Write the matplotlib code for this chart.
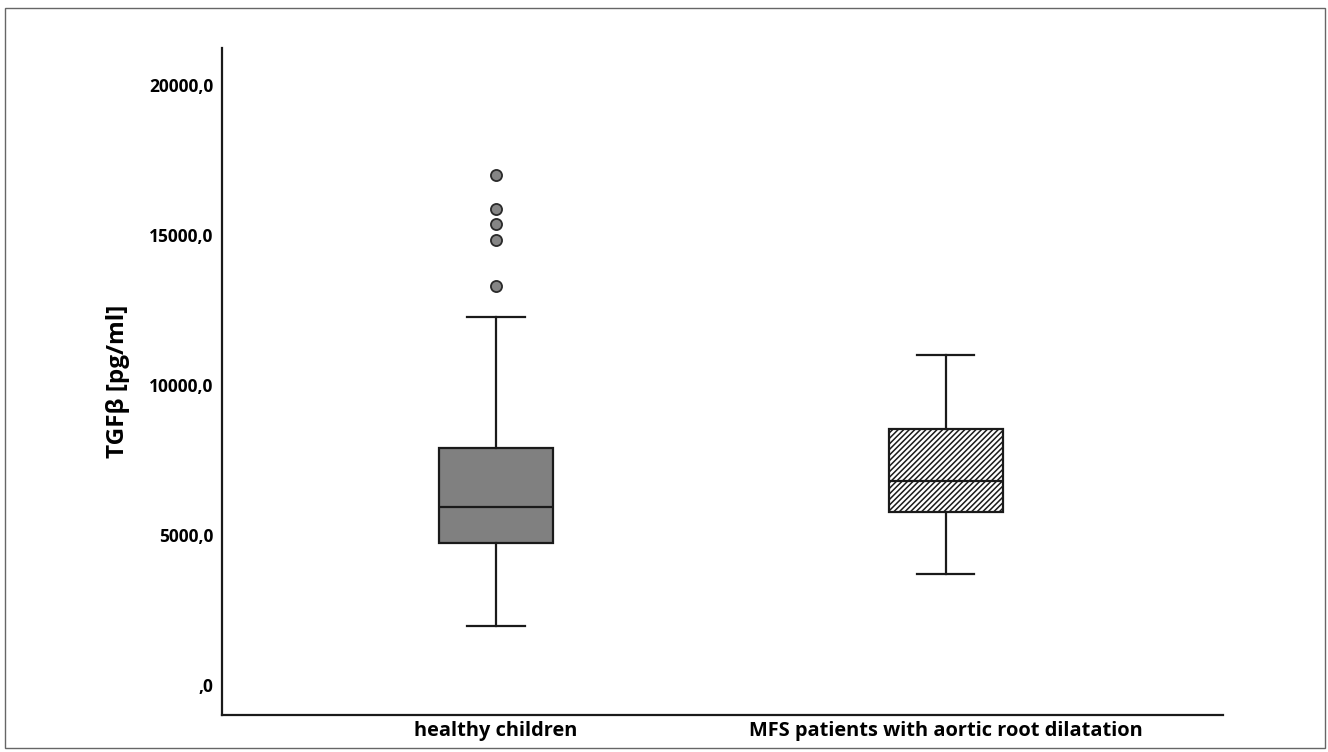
import matplotlib
matplotlib.use("Agg")
import matplotlib.pyplot as plt
from matplotlib.patches import Rectangle

categories = ["healthy children", "MFS patients with aortic root dilatation"]
whislo = [1950, 3700]
q1 = [4720, 5780]
med = [5940, 6790]
q3 = [7890, 8520]
whishi = [12250, 10990]
outliers_healthy = [13290, 14830, 15370, 15870, 17000]
outliers_mfs = []
yticks = [0, 5000, 10000, 15000, 20000]
ytick_labels = [",0", "5000,0", "10000,0", "15000,0", "20000,0"]

plt.rcParams['font.family'] = ['Open Sans', 'DejaVu Sans']
plt.rcParams['hatch.linewidth'] = 1.1

fig = plt.figure(figsize=(13.28, 7.52), dpi=100)
ax = fig.add_axes([221.5/1328, 1-715/752, (1223-221.5)/1328, (715-48)/752])

stats = []
fl = [outliers_healthy, outliers_mfs]
for i in range(2):
    stats.append(dict(label=categories[i], whislo=whislo[i], q1=q1[i], med=med[i],
                      q3=q3[i], whishi=whishi[i], fliers=fl[i]))

bp = ax.bxp(stats, positions=[1, 2], widths=0.252, capwidths=0.127, patch_artist=True,
            boxprops=dict(linewidth=1.6, edgecolor='#1a1a1a'),
            medianprops=dict(color='#1a1a1a', linewidth=1.6),
            whiskerprops=dict(color='#1a1a1a', linewidth=1.6),
            capprops=dict(color='#1a1a1a', linewidth=1.6),
            flierprops=dict(marker='o', markersize=8, markerfacecolor='#858585',
                            markeredgecolor='#2a2a2a', markeredgewidth=1.3))
bp['boxes'][0].set_facecolor('#808080')
bp['boxes'][1].set_facecolor('white')
bp['boxes'][1].set_hatch('//////')

ax.set_xlim(0.39, 2.616)
ax.set_ylim(-1000, 21233)
ax.set_yticks(yticks)
ax.set_yticklabels(ytick_labels, fontsize=12.5, fontweight='bold')
ax.tick_params(axis='y', length=0, pad=6)
ax.tick_params(axis='x', length=0, pad=4)
ax.set_xticks([1, 2])
ax.set_xticklabels(categories, fontsize=14.4, fontweight='bold')
for s in ['top', 'right']:
    ax.spines[s].set_visible(False)
for s in ['left', 'bottom']:
    ax.spines[s].set_linewidth(1.6)
    ax.spines[s].set_color('#1a1a1a')

fig.text(118/1328, 1-381/752, "TGFβ [pg/ml]", rotation=90, ha='center', va='center',
         fontsize=17.5, fontweight='bold')

fig.patches.append(Rectangle((4.5/1328, 1-748/752), (1325-4.5)/1328, (748-8)/752,
                             transform=fig.transFigure, fill=False,
                             edgecolor='#666666', linewidth=1.0))

fig.savefig("out.png", dpi=100)
